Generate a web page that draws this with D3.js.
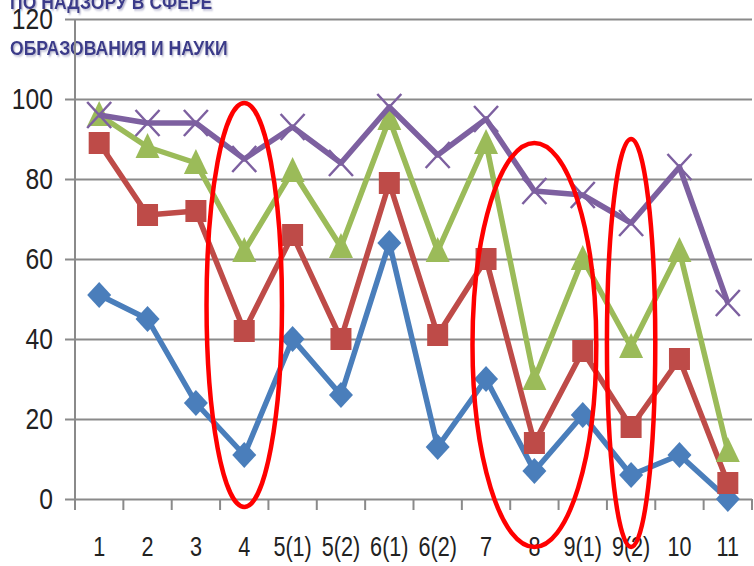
<!DOCTYPE html>
<html><head><meta charset="utf-8">
<script src="https://cdn.jsdelivr.net/npm/d3@7"></script>
<style>body{margin:0;background:#fff}svg{display:block}</style>
</head><body>
<script>
const categories = ["1","2","3","4","5(1)","5(2)","6(1)","6(2)","7","8","9(1)","9(2)","10","11"];
const seriesBlue   = [51,45,24,11,40,26,64,13,30,7,21,6,11,0];
const seriesRed    = [89,71,72,42,66,40,79,41,60,14,37,18,35,4];
const seriesGreen  = [96,88,84,62,82,63,95,62,89,30,60,38,62,12];
const seriesPurple = [96,94,94,85,93,84,98,86,95,77,76,69,83,49];
const yTicks = [0,20,40,60,80,100,120];
const titleLines = ["ПО НАДЗОРУ В СФЕРЕ","ОБРАЗОВАНИЯ И НАУКИ"];
// highlighted groups: first/last category, value span
const highlights = [
  {from:"4", to:"4", lo:-2, hi:99, pad:0.78},
  {from:"8", to:"8", lo:-12, hi:89, pad:1.28},
  {from:"9(2)", to:"9(2)", lo:-12, hi:90, pad:0.5}
];

const W=754,H=566;
const svg=d3.select("body").append("svg").attr("width",W).attr("height",H);
const defs=svg.append("defs");
defs.append("filter").attr("id","sh").append("feDropShadow")
  .attr("dx",1.5).attr("dy",1.5).attr("stdDeviation",0.8).attr("flood-color","#b8b8d0");
const m={l:75,r:2,t:19,b:67};
const x=d3.scaleBand().domain(categories).range([m.l,W-m.r]);
const y=d3.scaleLinear().domain([0,120]).range([H-m.b,m.t]);
const font="'Liberation Sans',Arial,sans-serif";

// title
const tg=svg.append("g").attr("transform","translate(10,0) scale(0.88,1)").attr("filter","url(#sh)");
titleLines.forEach((t,i)=>{
  tg.append("text").attr("x",0).attr("y",i===0?9:55).text(t)
    .attr("font-family",font).attr("font-weight","bold").attr("font-size",20)
    .attr("fill","#3b3a8a");
});

// grid + y axis
const ya=svg.append("g").attr("transform",`translate(${m.l},0)`)
  .call(d3.axisLeft(y).tickValues(yTicks).tickSize(10).tickPadding(10));
ya.select(".domain").remove();
ya.selectAll(".tick line").attr("stroke","#8a8a8a").attr("stroke-width",2)
  .attr("x1",-10).attr("x2",W-m.r-m.l);
ya.selectAll(".tick text").attr("font-family",font).attr("font-size",29).attr("fill","#222")
  .attr("x",0).attr("transform","translate(-22,0) scale(0.85,1)");
svg.append("line").attr("x1",m.l).attr("x2",m.l).attr("y1",y(120)).attr("y2",y(0))
  .attr("stroke","#8a8a8a").attr("stroke-width",2);

// x axis
const xa=svg.append("g").attr("transform",`translate(0,${y(0)})`)
  .call(d3.axisBottom(x).tickSize(0).tickPadding(38));
xa.select(".domain").remove();
xa.selectAll(".tick text").attr("font-family",font).attr("font-size",27).attr("fill","#222")
  .attr("transform","scale(0.8,1)");
const bounds=categories.map(c=>x(c)).concat([x(categories[categories.length-1])+x.bandwidth()]);
svg.append("g").selectAll("line").data(bounds).join("line")
  .attr("x1",d=>d).attr("x2",d=>d).attr("y1",y(0)).attr("y2",y(0)+11)
  .attr("stroke","#8a8a8a").attr("stroke-width",2);

const cx=c=>x(c)+x.bandwidth()/2;
const series=[
  {vals:seriesBlue,color:"#4a7ebb",mark:"diamond"},
  {vals:seriesRed,color:"#be4b48",mark:"square"},
  {vals:seriesGreen,color:"#9bbb59",mark:"triangle"},
  {vals:seriesPurple,color:"#7d60a0",mark:"x"}
];
const line=d3.line().x((d,i)=>cx(categories[i])).y(d=>y(d));
series.forEach(s=>{
  const g=svg.append("g");
  g.append("path").attr("d",line(s.vals)).attr("fill","none").attr("stroke",s.color)
    .attr("stroke-width",5.5).attr("stroke-linejoin","round");
  const pts=g.selectAll("g").data(s.vals).join("g")
    .attr("transform",(d,i)=>`translate(${cx(categories[i])},${y(d)})`);
  if(s.mark==="diamond") pts.append("path").attr("d","M0,-13L12,0L0,13L-12,0Z").attr("fill",s.color);
  if(s.mark==="square") pts.append("rect").attr("x",-10.5).attr("y",-11).attr("width",21).attr("height",22).attr("fill",s.color);
  if(s.mark==="triangle") pts.append("path").attr("d","M0,-14L12,11L-12,11Z").attr("fill",s.color);
  if(s.mark==="x") pts.append("path").attr("d","M-12,-13L12,13M-12,13L12,-13").attr("stroke",s.color).attr("stroke-width",2.5);
});

// highlight ellipses
svg.append("g").selectAll("ellipse").data(highlights).join("ellipse")
  .attr("cx",d=>(cx(d.from)+cx(d.to))/2)
  .attr("cy",d=>(y(d.lo)+y(d.hi))/2)
  .attr("rx",d=>(cx(d.to)-cx(d.from))/2+x.bandwidth()*d.pad)
  .attr("ry",d=>(y(d.lo)-y(d.hi))/2)
  .attr("fill","none").attr("stroke","#ff0000").attr("stroke-width",4.5);
</script>
</body></html>
